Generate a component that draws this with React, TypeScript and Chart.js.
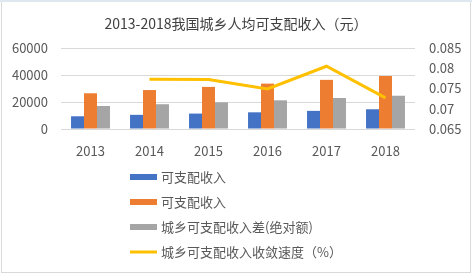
import React, { useEffect, useRef } from "react";
import { Chart, registerables } from "chart.js";

Chart.register(...registerables);

const categories = ["2013", "2014", "2015", "2016", "2017", "2018"];
const ruralIncome = [9430, 10489, 11422, 12363, 13432, 14617];
const urbanIncome = [26467, 28844, 31195, 33616, 36396, 39251];
const incomeGap = [17037, 18355, 19773, 21253, 22964, 24634];
const convergenceRate: (number | null)[] = [null, 0.0773, 0.0772, 0.0749, 0.0805, 0.0727];

const seriesLabels = ["可支配收入", "可支配收入", "城乡可支配收入差(绝对额)", "城乡可支配收入收敛速度（%）"];
const titleText = "2013-2018我国城乡人均可支配收入（元）";
const leftAxisRange = [0, 60000, 20000];
const rightAxisRange = [0.065, 0.085, 0.005];

const FONT = "'Noto Sans CJK SC', 'Noto Sans', sans-serif";
const TEXT = "#595959";

const verticalLegend = {
  id: "verticalLegend",
  afterDraw(chart: any) {
    const ctx = chart.ctx;
    const xs = chart.scales.x;
    ctx.save();
    ctx.font = `13px ${FONT}`;
    const datasets = chart.data.datasets;
    let maxW = 0;
    datasets.forEach((d: any) => {
      maxW = Math.max(maxW, ctx.measureText(d.label).width);
    });
    const boxW = 27;
    const gap = 4;
    const startX = Math.round((chart.width - (boxW + gap + maxW)) / 2);
    const firstY = xs.bottom + 18;
    datasets.forEach((d: any, i: number) => {
      const cy = firstY + i * 25;
      const color = d.type === "line" ? d.borderColor : d.backgroundColor;
      ctx.fillStyle = color;
      if (d.type === "line") {
        ctx.fillRect(startX, cy - 1.5, boxW, 3);
      } else {
        ctx.fillRect(startX, cy - 3, boxW, 6);
      }
      ctx.fillStyle = TEXT;
      ctx.textAlign = "left";
      ctx.textBaseline = "middle";
      ctx.fillText(d.label, startX + boxW + gap, cy);
    });
    ctx.restore();
  },
};

export default function App() {
  const ref = useRef<HTMLCanvasElement | null>(null);
  useEffect(() => {
    if (!ref.current) return;
    const fmt = (v: any) => String(Number(Number(v).toFixed(3)));
    const chart = new Chart(ref.current, {
      type: "bar",
      data: {
        labels: categories,
        datasets: [
          { type: "bar", label: seriesLabels[0], data: ruralIncome, backgroundColor: "#4472C4", yAxisID: "y", order: 1 } as any,
          { type: "bar", label: seriesLabels[1], data: urbanIncome, backgroundColor: "#ED7D31", yAxisID: "y", order: 1 } as any,
          { type: "bar", label: seriesLabels[2], data: incomeGap, backgroundColor: "#A5A5A5", yAxisID: "y", order: 1 } as any,
          {
            type: "line",
            label: seriesLabels[3],
            data: convergenceRate,
            borderColor: "#FFC000",
            backgroundColor: "#FFC000",
            borderWidth: 3,
            pointRadius: 0,
            tension: 0,
            yAxisID: "y1",
            order: 0,
          } as any,
        ],
      },
      options: {
        responsive: false,
        animation: false,
        devicePixelRatio: 1,
        datasets: { bar: { categoryPercentage: 0.66, barPercentage: 1 } } as any,
        layout: { padding: { left: 0, right: 0, top: 0, bottom: 115 } },
        plugins: {
          legend: { display: false },
          tooltip: { enabled: false },
          title: {
            display: true,
            text: titleText,
            color: "#404040",
            font: { size: 14, family: FONT, weight: "normal" },
            padding: { top: 15, bottom: 16.2 },
          },
        },
        scales: {
          x: {
            grid: { display: false },
            border: { display: false },
            ticks: { color: TEXT, font: { size: 13, family: FONT }, padding: 6 },
            afterFit: (s: any) => {
              s.height = 30;
            },
          },
          y: {
            position: "left",
            min: leftAxisRange[0],
            max: leftAxisRange[1],
            ticks: {
              stepSize: leftAxisRange[2],
              color: TEXT,
              font: { size: 13, family: FONT },
              padding: 13,
              callback: (v: any) => String(v),
            },
            grid: { color: "#D9D9D9", drawTicks: false },
            border: { display: false },
            afterFit: (s: any) => {
              s.width = 61;
            },
          },
          y1: {
            position: "right",
            min: rightAxisRange[0],
            max: rightAxisRange[1],
            ticks: {
              stepSize: rightAxisRange[2],
              color: TEXT,
              font: { size: 13, family: FONT },
              padding: 14,
              callback: fmt,
            },
            grid: { display: false, drawTicks: false },
            border: { display: false },
            afterFit: (s: any) => {
              s.width = 57;
            },
          },
        },
      },
      plugins: [verticalLegend],
    });
    return () => chart.destroy();
  }, []);

  return (
    <div style={{ position: "fixed", left: 0, top: 0, width: 472, height: 274, background: "#fff" }}>
      <canvas ref={ref} width={472} height={274} style={{ position: "absolute", left: 0, top: 0 }} />
      <div style={{ position: "absolute", left: 0, top: 0, width: 472, height: 2, background: "#DFE7F0" }} />
      <div
        style={{
          position: "absolute",
          left: 1,
          top: 2,
          width: 470,
          height: 271,
          boxSizing: "border-box",
          borderLeft: "1px solid #D9D9D9",
          borderRight: "1px solid #D9D9D9",
          borderBottom: "1px solid #D9D9D9",
          pointerEvents: "none",
        }}
      />
    </div>
  );
}
